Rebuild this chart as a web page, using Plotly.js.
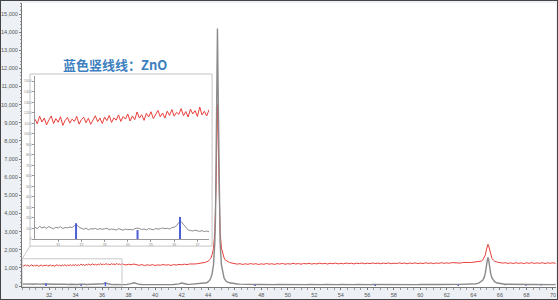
<!DOCTYPE html>
<html><head><meta charset="utf-8">
<script src="https://cdn.plot.ly/plotly-3.0.1.min.js"></script>
<style>
html,body{margin:0;padding:0;background:#fff}
#wrap{width:558px;height:300px;box-sizing:border-box;border:1px solid #444;overflow:hidden}
#chart{width:556px;height:298px}
</style></head>
<body><div id="wrap"><div id="chart"></div></div>
<script>
// 2-theta sampling positions (degrees)
const twoTheta = [
30.0,30.1,30.2,30.3,30.4,30.5,30.6,30.7,30.8,30.9,
31.0,31.1,31.2,31.3,31.4,31.5,31.6,31.7,31.8,31.9,
32.0,32.1,32.2,32.3,32.4,32.5,32.6,32.7,32.8,32.9,
33.0,33.1,33.2,33.3,33.4,33.5,33.6,33.7,33.8,33.9,
34.0,34.1,34.2,34.3,34.4,34.5,34.6,34.7,34.8,34.9,
35.0,35.1,35.2,35.3,35.4,35.5,35.6,35.7,35.8,35.9,
36.0,36.1,36.2,36.3,36.4,36.5,36.6,36.7,36.8,36.9,
37.0,37.1,37.2,37.3,37.4,37.5,37.6,
37.8,38.0,38.2,38.4,38.6,38.8,39.0,39.2,39.4,39.6,
39.8,40.0,40.2,40.4,40.6,40.8,41.0,41.2,41.4,41.6,
41.8,42.0,42.2,42.4,42.6,42.8,43.0,43.2,43.4,43.6,43.8,
43.9,44.0,44.1,44.2,44.3,44.4,44.5,44.55,44.6,44.65,
44.7,44.75,44.8,44.85,44.9,45.0,45.1,45.2,45.3,45.4,
45.6,45.8,
46.0,46.2,46.4,46.6,46.8, 47.0,47.2,47.4,47.6,47.8,
48.0,48.2,48.4,48.6,48.8, 49.0,49.2,49.4,49.6,49.8,
50.0,50.2,50.4,50.6,50.8, 51.0,51.2,51.4,51.6,51.8,
52.0,52.2,52.4,52.6,52.8, 53.0,53.2,53.4,53.6,53.8,
54.0,54.2,54.4,54.6,54.8, 55.0,55.2,55.4,55.6,55.8,
56.0,56.2,56.4,56.6,56.8, 57.0,57.2,57.4,57.6,57.8,
58.0,58.2,58.4,58.6,58.8, 59.0,59.2,59.4,59.6,59.8,
60.0,60.2,60.4,60.6,60.8, 61.0,61.2,61.4,61.6,61.8,
62.0,62.2,62.4,62.6,62.8, 63.0,63.2,63.4,63.6,63.8,
64.0,64.2,64.4,
64.6,64.7,64.8,64.9,65.0,65.05,65.1,65.15,65.2,65.3,65.4,65.5,65.6,65.8,
66.0,66.2,66.4,66.6,66.8,67.0,67.2,67.4,67.6,67.8,
68.0,68.2,68.4,68.6,68.8,69.0,69.2,69.4,69.6,69.8,70.0,70.2
];

// grey pattern (counts)
const greyCounts = [
112,98,120,105,115,101,118,108,96,112,
104,117,99,110,106,114,109,128,135,112,
100,92,104,88,98,95,101,90,99,93,
97,102,88,96,91,85,98,90,84,95,
88,92,86,97,104,100,90,95,86,99,
93,88,100,94,97,105,98,102,95,108,
112,126,158,165,138,108,86,80,76,84,
78,72,80,70,76,68,74,
78,95,130,175,120,92,80,76,84,72,
78,74,82,76,80,74,83,78,86,92,
115,165,120,98,92,100,104,112,122,138,160,
180,240,310,440,680,1165,2370,3730,6310,10850,
14200,10850,6310,3730,2370,1165,680,440,310,240,
178,148,
126,112,104,96,92, 88,94,86,92,84,
90,82,88,80,86, 78,84,80,87,79,
85,77,83,79,86, 76,82,78,85,77,
83,75,81,78,84, 76,82,74,80,77,
83,75,81,73,79, 76,82,74,80,77,
83,75,80,78,84, 76,82,74,80,76,
82,74,80,77,83, 75,81,78,84,76,
82,75,81,78,85, 77,83,79,86,80,
87,82,89,85,92, 88,92,90,96,100,
110,125,160,
236,310,445,710,1195,1460,1580,1460,1195,710,445,310,236,164,
130,112,100,94,88,92,84,90,82,88,
80,86,79,85,78,84,77,83,76,82,75,80
];

// red pattern (counts)
const redCounts = [
1140,1095,1168,1112,1150,1085,1132,1170,1098,1145,
1110,1162,1080,1128,1155,1102,1140,1118,1166,1092,
1135,1158,1105,1148,1090,1138,1172,1115,1150,1098,
1160,1125,1175,1108,1152,1130,1180,1118,1165,1140,
1188,1122,1170,1135,1208,1150,1182,1128,1195,1160,
1210,1145,1188,1222,1162,1198,1150,1215,1175,1230,
1168,1205,1185,1240,1172,1212,1160,1235,1190,1220,
1165,1255,1180,1215,1170,1228,1195,
1160,1198,1175,1210,1168,1140,1182,1125,1170,1138,
1178,1130,1165,1142,1185,1150,1172,1135,1180,1155,
1192,1170,1205,1180,1215,1198,1215,1232,1248,1275,1305,
1340,1362,1452,1528,1735,2070,2975,3900,5620,8230,
10000,8260,5580,3925,2945,2090,1712,1548,1430,1385,
1300,1262,
1240,1205,1232,1188,1225, 1196,1238,1202,1230,1185,
1222,1198,1240,1205,1228, 1190,1235,1212,1245,1200,
1232,1208,1250,1215,1238, 1202,1245,1220,1255,1210,
1240,1218,1258,1225,1248, 1212,1252,1230,1262,1220,
1250,1225,1265,1232,1255, 1218,1260,1235,1268,1228,
1258,1232,1270,1240,1262, 1225,1265,1238,1272,1230,
1260,1236,1275,1242,1266, 1228,1268,1240,1278,1235,
1262,1240,1280,1245,1270, 1232,1272,1248,1285,1250,
1275,1255,1292,1268,1282, 1260,1295,1280,1300,1292,
1310,1332,1362,
1375,1420,1535,1712,2050,2230,2300,2215,2060,1715,1520,1432,1365,1318,
1290,1262,1285,1245,1278,1240,1282,1250,1276,1238,
1280,1252,1288,1245,1275,1250,1285,1242,1278,1255,1282,1248
];

// ZnO reference stick positions and heights
const znoPos = [31.77,34.42,36.25,47.54,56.60,62.86,66.38,67.96,69.10];
const znoHeight = [150,85,210,50,67,60,10,48,23];

const xTicks = [32,34,36,38,40,42,44,46,48,50,52,54,56,58,60,62,64,66,68,70];
const insetXTicks = [31,32,33,34,35,36,37];
const titleText = '蓝色竖线线：ZnO';

const stickX = [], stickY = [];
znoPos.forEach((p,i)=>{ stickX.push(p,p,null); stickY.push(0,znoHeight[i],null); });

const RED = '#e8403a', GREY = '#8a8a8a', BLUE = '#4a5fd5';
function traces(xa, ya, inset){
  return [
    {x: twoTheta, y: redCounts, xaxis: xa, yaxis: ya, mode: 'lines', line: {color: RED, width: 1}, hoverinfo: 'skip'},
    {x: twoTheta, y: greyCounts, xaxis: xa, yaxis: ya, mode: 'lines', line: {color: GREY, width: inset ? 1 : 1.4}, hoverinfo: 'skip'},
    {x: stickX, y: stickY, xaxis: xa, yaxis: ya, mode: 'lines', line: {color: BLUE, width: inset ? 2 : 1.5}, hoverinfo: 'skip'}
  ];
}
const data = traces('x','y',false).concat(traces('x2','y2',true));

const tickFont = {family: 'Liberation Sans, Arial, sans-serif', size: 5.5, color: '#555'};
const layout = {
  width: 556, height: 298,
  margin: {l: 21, r: 1, t: 2, b: 12, pad: 0},
  paper_bgcolor: '#edf1f6', plot_bgcolor: '#ffffff',
  showlegend: false,
  xaxis: {
    range: [29.96, 70.23], tickvals: xTicks, ticktext: xTicks.map(String),
    showgrid: false, zeroline: false, showline: true, linecolor: '#777', linewidth: 1,
    ticks: 'outside', ticklen: 2, tickcolor: '#777', tickfont: tickFont,
    ticklabeloverflow: 'allow',
    minor: {dtick: 0.5, ticks: 'outside', ticklen: 1.5, tickcolor: '#999', showgrid: false}
  },
  yaxis: {
    range: [-55, 15607], dtick: 1000, tick0: 0, tickformat: ',d',
    showgrid: false, zeroline: false, showline: true, linecolor: '#777', linewidth: 1,
    ticks: 'outside', ticklen: 2, tickcolor: '#777', tickfont: tickFont,
    ticklabeloverflow: 'allow', ticklabelstandoff: 0,
    minor: {dtick: 200, ticks: 'outside', ticklen: 1.5, tickcolor: '#999', showgrid: false}
  },
  xaxis2: {
    domain: [0.0243, 0.3502], anchor: 'y2', range: [30, 37.5],
    tickvals: insetXTicks, showgrid: false, zeroline: false,
    showline: true, linecolor: '#999', linewidth: 1,
    ticks: 'outside', ticklen: 1.5, tickcolor: '#999',
    tickfont: {family: 'Liberation Sans, Arial, sans-serif', size: 3.5, color: '#888'}
  },
  yaxis2: {
    domain: [0.169, 0.743], anchor: 'x2', range: [0, 1550], dtick: 100,
    showgrid: false, zeroline: false,
    showline: true, linecolor: '#999', linewidth: 1,
    ticks: 'outside', ticklen: 1.5, tickcolor: '#999',
    tickfont: {family: 'Liberation Sans, Arial, sans-serif', size: 3.5, color: '#888'}
  },
  shapes: [
    {type: 'rect', xref: 'paper', yref: 'paper', x0: 0.015, x1: 0.356, y0: 0.144, y1: 0.75,
     line: {color: '#c4c4c4', width: 1}, fillcolor: 'rgba(0,0,0,0)', layer: 'above'},
    {type: 'rect', xref: 'x', yref: 'y', x0: 29.97, x1: 37.5, y0: -55, y1: 1500,
     line: {color: '#c8c8c8', width: 1}, fillcolor: 'rgba(0,0,0,0)'},
    {type: 'line', xref: 'paper', yref: 'paper', x0: 0.015, y0: 0.144, x1: 0.0, y1: 0.0986,
     line: {color: '#c8c8c8', width: 1}}
  ],
  annotations: [
    {xref: 'paper', yref: 'paper', x: 0.174, y: 0.785, xanchor: 'center', yanchor: 'middle',
     text: '<b>' + titleText + '</b>', showarrow: false,
     font: {family: 'Noto Sans CJK SC, sans-serif', size: 13, color: '#3d7fc0'}}
  ]
};

Plotly.newPlot('chart', data, layout, {staticPlot: true, displayModeBar: false});
</script>
</body></html>
